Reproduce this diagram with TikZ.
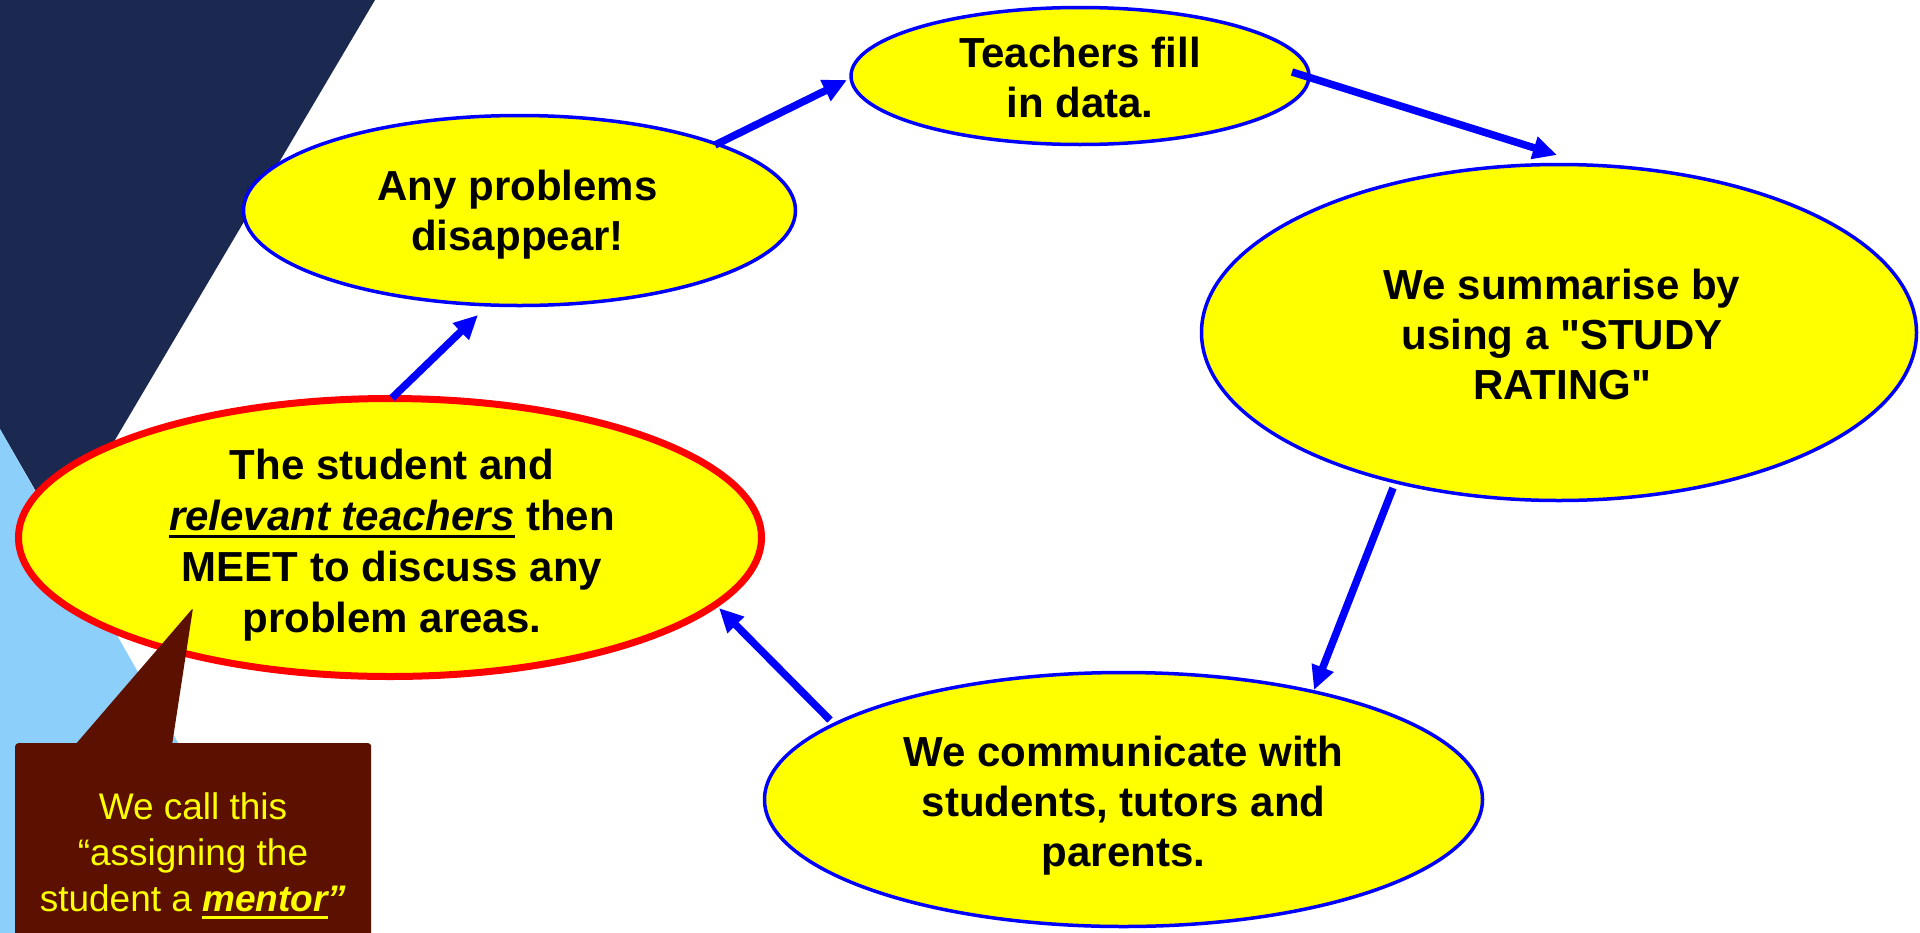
\documentclass[tikz,border=0pt]{standalone}
\usepackage{fontspec}
\setmainfont{Liberation Sans}[Ligatures=TeXOff]
\usetikzlibrary{shapes.geometric,arrows.meta,calc}
\definecolor{navyband}{RGB}{27,41,81}
\definecolor{skyband}{RGB}{140,207,250}
\definecolor{calloutbrown}{RGB}{92,16,0}
\definecolor{bubbleyellow}{RGB}{255,255,0}
\definecolor{flowblue}{RGB}{0,0,255}
\newcommand{\myul}[1]{\setbox0\hbox{#1}\rlap{\rule[-0.19em]{\wd0}{0.07em}}\box0\relax}
\begin{document}
\begin{tikzpicture}[x=1pt,y=-1pt,
  bubble/.style={ellipse, fill=bubbleyellow, draw=flowblue, line width=3.5pt, inner sep=0pt},
  keybubble/.style={bubble, draw=red, line width=7pt},
  bubbletext/.style={align=center, text=black, inner sep=0pt, font=\fontsize{42}{50}\selectfont\bfseries},
  flow/.style={draw=flowblue, line width=7.5pt, -{Triangle[length=24pt,width=22pt]}},
]
\useasboundingbox (0,0) rectangle (1920,932);
\clip (0,0) rectangle (1920,932);
\fill[white] (0,0) rectangle (1920,932);
% background bands
\fill[navyband] (0,0) -- (375,0) -- (60,533) -- (0,429) -- cycle;
\fill[skyband] (0,429) -- (290,940) -- (0,940) -- cycle;

% bubbles
\node[bubble, minimum width=458pt, minimum height=137pt] (teach) at (1080,76) {};
\node[bubble, minimum width=552pt, minimum height=190pt] (any) at (519.5,210.5) {};
\node[bubble, minimum width=715pt, minimum height=336pt] (summ) at (1559,332.5) {};
\node[bubble, minimum width=718pt, minimum height=254pt] (comm) at (1123.5,799.5) {};
\node[keybubble, minimum width=743pt, minimum height=278pt] (meet) at (390,537.5) {};

% texts
\node[bubbletext] (teach-t) at ($(teach.center)+(0,1)$) {Teachers fill\\in data.};
\node[bubbletext] (any-t) at ($(any.center)+(-2,4)$) {Any problems\\disappear!};
\node[bubbletext] (summ-t) at ($(summ.center)+(3,2)$) {We summarise by\\using a "STUDY\\RATING"};
\node[bubbletext] (comm-t) at ($(comm.center)+(0,6.5)$) {We communicate with\\students, tutors and\\parents.};
\node[bubbletext, font=\fontsize{42}{51}\selectfont\bfseries] (meet-t) at ($(meet.center)+(2,7.5)$)
  {The student and\\\myul{\textit{relevant teachers}} then\\MEET to discuss any\\problem areas.};

% arrows
\draw[flow] ($(any.center)+(195.5,-65.5)$) -- ($(teach.center)+(-233,4)$);
\draw[flow] ($(teach.center)+(212,-4)$) -- ($(summ.center)+(-2,-177.5)$);
\draw[flow] ($(summ.center)+(-166,155.5)$) -- ($(comm.center)+(190.5,-109.5)$);
\draw[flow] ($(comm.center)+(-293.5,-79.5)$) -- ($(meet.center)+(329,70.5)$);
\draw[flow] ($(meet.center)+(2,-139.5)$) -- ($(any.center)+(-41.5,104.5)$);

% callout
\node[fill=calloutbrown, rounded corners=3pt, minimum width=356pt, minimum height=205pt, inner sep=0pt, anchor=north west] (callout) at (15,743) {};
\coordinate (callout-tip) at (193,608);
\fill[calloutbrown, rounded corners=2pt] ($(callout.north west)+(60,2)$) -- (callout-tip) -- ($(callout.north west)+(157,2)$) -- cycle;
\node[align=center, text=bubbleyellow, inner sep=0pt, font=\fontsize{37}{46}\selectfont] (callout-t) at (193,856)
  {We call this\\“assigning the\\student a \textbf{\textit{\myul{mentor}”}}};
\end{tikzpicture}
\end{document}
